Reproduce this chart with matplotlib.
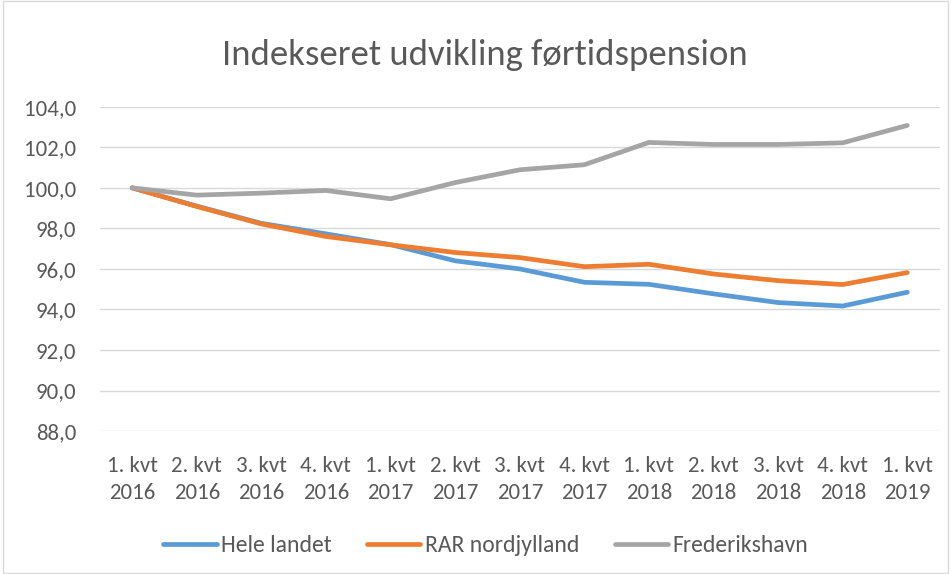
import matplotlib
matplotlib.use('Agg')
import matplotlib.pyplot as plt
from matplotlib.ticker import FuncFormatter

plt.rcParams['font.family'] = ['Carlito', 'DejaVu Sans']

quarters = ['1. kvt\n2016', '2. kvt\n2016', '3. kvt\n2016', '4. kvt\n2016',
            '1. kvt\n2017', '2. kvt\n2017', '3. kvt\n2017', '4. kvt\n2017',
            '1. kvt\n2018', '2. kvt\n2018', '3. kvt\n2018', '4. kvt\n2018',
            '1. kvt\n2019']
hele_landet = [100.0, 99.1, 98.25, 97.73, 97.2, 96.4, 96.0, 95.34,
               95.24, 94.77, 94.34, 94.17, 94.85]
rar_nordjylland = [100.0, 99.08, 98.22, 97.6, 97.19, 96.81, 96.56, 96.11,
                   96.23, 95.75, 95.42, 95.23, 95.82]
frederikshavn = [100.0, 99.64, 99.74, 99.87, 99.46, 100.26, 100.89, 101.14,
                 102.24, 102.14, 102.14, 102.22, 103.08]
y_ticks = [88, 90, 92, 94, 96, 98, 100, 102, 104]

txt = '#595959'
fig = plt.figure(figsize=(9.51, 5.74), dpi=100)
fig.patches.append(plt.Rectangle((0.003, 0.002), 0.994, 0.996,
                                 transform=fig.transFigure, fill=False,
                                 edgecolor='#d9d9d9', linewidth=1))
ax = fig.add_axes([0.105, 0.249, 0.883, 0.565])

x = range(len(quarters))
ax.plot(x, hele_landet, color='#5B9BD5', lw=3.4, label='Hele landet',
        solid_capstyle='round')
ax.plot(x, rar_nordjylland, color='#ED7D31', lw=3.4, label='RAR nordjylland',
        solid_capstyle='round')
ax.plot(x, frederikshavn, color='#A5A5A5', lw=3.4, label='Frederikshavn',
        solid_capstyle='round')

ax.set_xlim(-0.5, len(quarters) - 0.5)
ax.set_ylim(88, 104)
ax.set_yticks(y_ticks)
ax.yaxis.set_major_formatter(FuncFormatter(lambda v, p: f'{v:.1f}'.replace('.', ',')))
ax.set_xticks(list(x))
ax.set_xticklabels(quarters, linespacing=1.45)
ax.grid(axis='y', color='#d9d9d9', lw=1)
ax.set_axisbelow(True)
for s in ax.spines.values():
    s.set_visible(False)
ax.tick_params(length=0, labelsize=16.5, colors=txt)
ax.tick_params(axis='x', pad=18)
ax.tick_params(axis='y', pad=17)

fig.text(0.51, 0.904, 'Indekseret udvikling førtidspension', ha='center',
         va='center', fontsize=26.5, color=txt)
fig.legend(loc='center', bbox_to_anchor=(0.511, 0.05), ncol=3, frameon=False,
           fontsize=17, labelcolor=txt, handlelength=2.25, handletextpad=0.2,
           columnspacing=1.5)

fig.savefig('out.png', dpi=100)
